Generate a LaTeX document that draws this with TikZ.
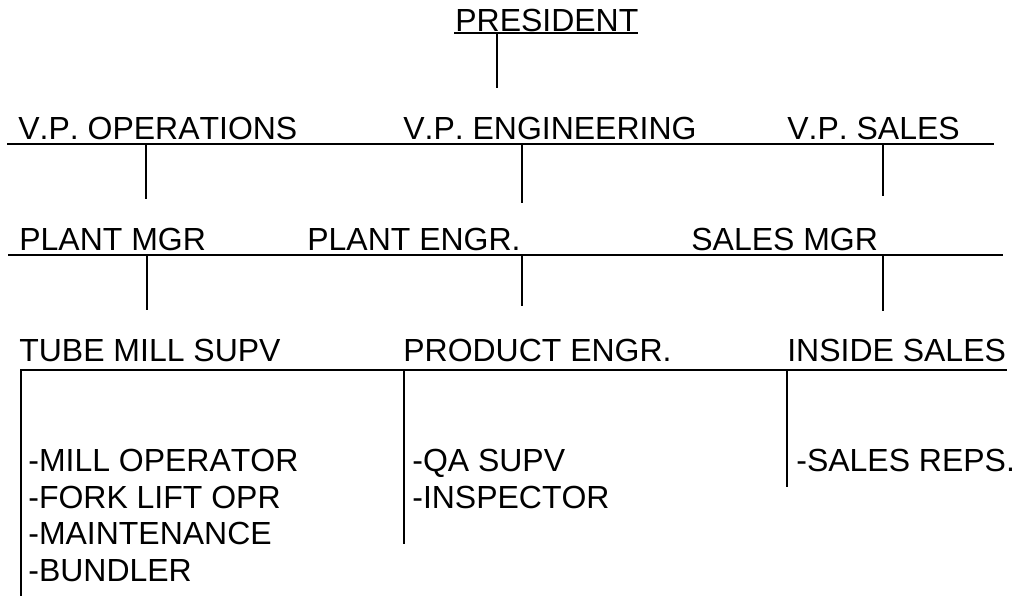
\documentclass[tikz,border=0pt]{standalone}
\usepackage{fontspec}
\setmainfont[Kerning=Off]{Liberation Sans}
\usetikzlibrary{positioning}

\begin{document}
\begin{tikzpicture}[
  x=0.02cm, y=-0.02cm,
  lbl/.style={anchor=base west, inner sep=0pt, font=\fontsize{18.2}{20}\selectfont},
  bus/.style={line width=1pt},
  tie/.style={line width=0.9pt}
]
  \useasboundingbox (0,0) rectangle (1018,596);

  % top
  \node[lbl] (pres) at (455,31) {PRESIDENT};
  \coordinate (presL) at (454,33);
  \coordinate (presR) at (638,33);
  \coordinate (presT) at (497,33);
  \coordinate (presB) at (497,88);
  \draw[bus] (presL) -- (presR);
  \draw[tie] (presT) -- (presB);

  % vice presidents
  \node[lbl] (vpops)   at (18,139)  {V.P. OPERATIONS};
  \node[lbl] (vpeng)   at (403,139) {V.P. ENGINEERING};
  \node[lbl] (vpsales) at (787,139) {V.P. SALES};
  \coordinate (vpW) at (7,144);
  \coordinate (vpE) at (994,144);
  \draw[bus] (vpW) -- (vpE);
  \coordinate (vpops1) at (146,144);   \coordinate (vpops2) at (146,199);
  \coordinate (vpeng1) at (522,144);   \coordinate (vpeng2) at (522,203);
  \coordinate (vpsales1) at (883,144); \coordinate (vpsales2) at (883,196);
  \draw[tie] (vpops1) -- (vpops2);
  \draw[tie] (vpeng1) -- (vpeng2);
  \draw[tie] (vpsales1) -- (vpsales2);

  % managers
  \node[lbl] (pmgr)  at (19,250)  {PLANT MGR};
  \node[lbl] (peng)  at (307,250) {PLANT ENGR.};
  \node[lbl] (smgr)  at (691,250) {SALES MGR};
  \coordinate (mgrW) at (8,255);
  \coordinate (mgrE) at (1003,255);
  \draw[bus] (mgrW) -- (mgrE);
  \coordinate (pmgr1) at (147,255); \coordinate (pmgr2) at (147,310);
  \coordinate (peng1) at (522,255); \coordinate (peng2) at (522,306);
  \coordinate (smgr1) at (883,255); \coordinate (smgr2) at (883,311);
  \draw[tie] (pmgr1) -- (pmgr2);
  \draw[tie] (peng1) -- (peng2);
  \draw[tie] (smgr1) -- (smgr2);

  % supervisors
  \node[lbl] (tube)   at (19,361)  {TUBE MILL SUPV};
  \node[lbl] (prod)   at (403,361) {PRODUCT ENGR.};
  \node[lbl] (inside) at (787,361) {INSIDE SALES};
  \coordinate (supW) at (20,370);
  \coordinate (supE) at (1007,370);
  \draw[bus] (supW) -- (supE);
  \coordinate (tube1) at (21,370);    \coordinate (tube2) at (21,596);
  \coordinate (prod1) at (404,370);   \coordinate (prod2) at (404,544);
  \coordinate (inside1) at (787,370); \coordinate (inside2) at (787,487);
  \draw[tie] (tube1) -- (tube2);
  \draw[tie] (prod1) -- (prod2);
  \draw[tie] (inside1) -- (inside2);

  % staff
  \node[lbl] (mill)  at (28,471) {-MILL OPERATOR};
  \node[lbl] (fork)  at (28,508) {-FORK LIFT OPR};
  \node[lbl] (maint) at (28,544) {-MAINTENANCE};
  \node[lbl] (bund)  at (28,581) {-BUNDLER};
  \node[lbl] (qa)    at (412,471) {-QA SUPV};
  \node[lbl] (insp)  at (412,508) {-INSPECTOR};
  \node[lbl] (reps)  at (796,471) {-SALES REPS.};
\end{tikzpicture}
\end{document}
